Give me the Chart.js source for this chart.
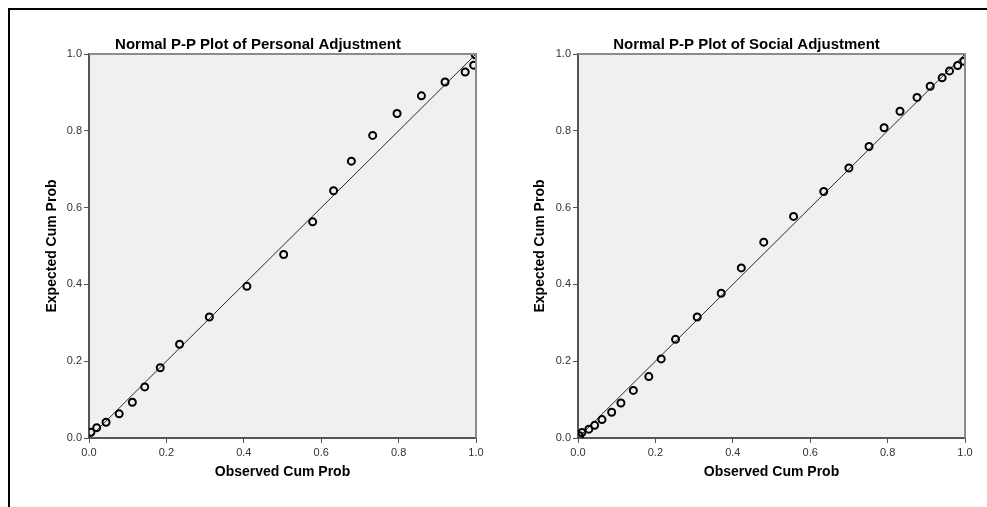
<!DOCTYPE html>
<html>
<head>
<meta charset="utf-8">
<title>Normal P-P Plots</title>
<script src="https://cdn.jsdelivr.net/npm/chart.js@4.4.1/dist/chart.umd.min.js"></script>
<style>
    html, body { margin: 0; padding: 0; background: #fff; }
    #page { position: relative; width: 987px; height: 507px; overflow: hidden; }
    #frame {
        position: absolute; left: 8px; top: 8px; width: 979px; height: 499px;
        border-top: 2px solid #000; border-left: 2px solid #000;
    }
    .panel { position: absolute; top: 0; height: 507px; }
    #panelLeft { left: 0; width: 490px; }
    #panelRight { left: 490px; width: 497px; }
</style>
</head>
<body>
<div id="page">
    <div id="frame"></div>
    <div class="panel" id="panelLeft"><canvas id="ppPersonal" width="490" height="507"></canvas></div>
    <div class="panel" id="panelRight"><canvas id="ppSocial" width="497" height="507"></canvas></div>
</div>
<script>
// Observed vs expected cumulative probabilities
const personalObserved = [0.005, 0.020, 0.044, 0.078, 0.112, 0.144, 0.184, 0.234, 0.311, 0.408, 0.503,
    0.578, 0.632, 0.678, 0.733, 0.796, 0.859, 0.920, 0.972, 0.994, 0.998];
const personalExpected = [0.015, 0.027, 0.041, 0.063, 0.093, 0.133, 0.183, 0.244, 0.315, 0.395, 0.478,
    0.563, 0.644, 0.721, 0.788, 0.845, 0.891, 0.927, 0.953, 0.971, 0.998];

const socialObserved = [0.004, 0.010, 0.028, 0.043, 0.062, 0.087, 0.111, 0.143, 0.183, 0.215, 0.252,
    0.308, 0.370, 0.422, 0.480, 0.557, 0.635, 0.700, 0.752, 0.791, 0.832, 0.876, 0.910, 0.941,
    0.960, 0.981, 0.997];
const socialExpected = [0.006, 0.014, 0.023, 0.033, 0.048, 0.067, 0.091, 0.124, 0.160, 0.206, 0.257,
    0.315, 0.377, 0.443, 0.510, 0.577, 0.642, 0.703, 0.759, 0.808, 0.851, 0.887, 0.916, 0.938,
    0.956, 0.970, 0.981];

const axisTicks = [0.0, 0.2, 0.4, 0.6, 0.8, 1.0];
const diagonal = [0, 1];

const FONT = '"Liberation Sans", Arial, sans-serif';

// Grey plot background plus the lighter top/right edges of the frame
const plotFrame = {
    id: 'plotFrame',
    beforeDraw(chart) {
        const a = chart.chartArea;
        const ctx = chart.ctx;
        ctx.save();
        ctx.fillStyle = '#f0f0f0';
        ctx.fillRect(a.left, a.top, a.right - a.left, a.bottom - a.top);
        ctx.restore();
    },
    afterDraw(chart) {
        const a = chart.chartArea;
        const ctx = chart.ctx;
        ctx.save();
        ctx.strokeStyle = '#8c8c8c';
        ctx.lineWidth = 2;
        ctx.beginPath();
        ctx.moveTo(a.left, a.top);
        ctx.lineTo(a.right, a.top);
        ctx.lineTo(a.right, a.bottom);
        ctx.stroke();
        ctx.restore();
    }
};

function makeAxis(titleText, isY, yWidth) {
    return {
        type: 'linear',
        min: 0,
        max: 1,
        afterBuildTicks(scale) {
            scale.ticks = axisTicks.map(function(v) { return { value: v }; });
        },
        afterFit(scale) {
            if (isY) scale.width = yWidth;
            else scale.height = 47;
        },
        grid: {
            display: true,
            drawOnChartArea: false,
            drawTicks: true,
            tickLength: 5,
            color: '#555'
        },
        border: { display: true, color: '#555', width: 2 },
        ticks: {
            color: '#333',
            padding: isY ? 2 : 3,
            maxRotation: 0,
            font: { family: FONT, size: 11 },
            callback: function(v) { return Number(v).toFixed(1); }
        },
        title: {
            display: true,
            text: titleText,
            color: '#000',
            padding: { top: 4, bottom: 4 },
            font: { family: FONT, size: 14, weight: 'bold' }
        }
    };
}

function makePPChart(canvasId, titleText, observed, expected, geom) {
    const points = observed.map(function(x, i) { return { x: x, y: expected[i] }; });
    const refLine = diagonal.map(function(v) { return { x: v, y: v }; });

    return new Chart(document.getElementById(canvasId), {
        type: 'scatter',
        data: {
            datasets: [
                {
                    type: 'line',
                    data: refLine,
                    borderColor: '#2a2a2a',
                    borderWidth: 1,
                    pointRadius: 0,
                    fill: false,
                    order: 2
                },
                {
                    data: points,
                    borderColor: '#000',
                    backgroundColor: 'rgba(0,0,0,0)',
                    borderWidth: 2,
                    pointRadius: 3.5,
                    order: 1
                }
            ]
        },
        options: {
            responsive: false,
            animation: false,
            events: [],
            layout: {
                padding: { left: geom.padLeft, right: geom.padRight, top: 0, bottom: 22 }
            },
            plugins: {
                legend: { display: false },
                tooltip: { enabled: false },
                title: {
                    display: true,
                    text: titleText,
                    color: '#000',
                    padding: { top: 35.5, bottom: 0.5 },
                    font: { family: FONT, size: 15, weight: 'bold', lineHeight: 1.2 }
                }
            },
            scales: {
                x: makeAxis('Observed Cum Prob', false),
                y: makeAxis('Expected Cum Prob', true, geom.yWidth)
            }
        },
        plugins: [plotFrame]
    });
}

makePPChart('ppPersonal', 'Normal P-P Plot of Personal Adjustment',
    personalObserved, personalExpected, { padLeft: 40, padRight: 14, yWidth: 49 });
makePPChart('ppSocial', 'Normal P-P Plot of Social Adjustment',
    socialObserved, socialExpected, { padLeft: 38, padRight: 22, yWidth: 50 });
</script>
</body>
</html>
